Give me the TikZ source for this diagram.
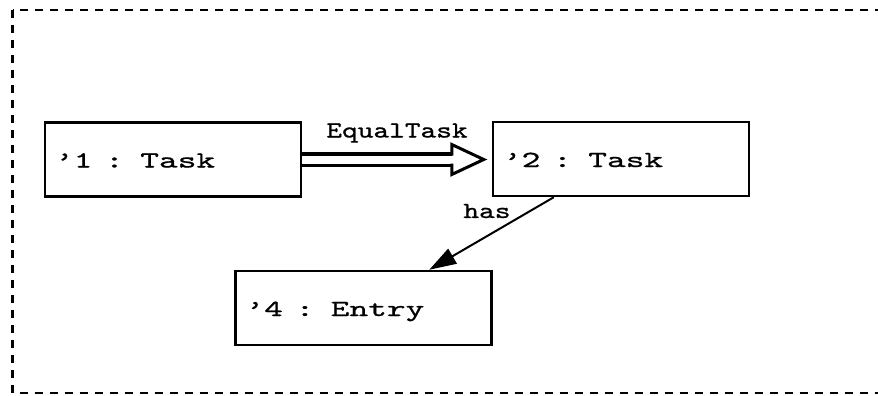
\documentclass[tikz,border=0pt]{standalone}
\usepackage{fontspec}
\setmonofont{lmmono10-regular.otf}[FakeStretch=1.55, FakeBold=0.9]
\newfontfamily\lblfont{lmmono10-regular.otf}[FakeStretch=1.3, FakeBold=0.9]
\newcommand{\gapx}{\kern5pt\relax}
\usetikzlibrary{arrows.meta}
\begin{document}
\begin{tikzpicture}[x=1pt,y=-1pt,
  txt/.style={font=\ttfamily\fontsize{23}{27}\selectfont},
  lbl/.style={font=\lblfont\fontsize{23}{27}\selectfont},
  box/.style={draw, line width=2.5pt, minimum width=256pt, minimum height=74pt,
    text width=236pt, inner xsep=10pt, align=left, txt, text height=20pt, text depth=4pt},
  frame/.style={line width=2.5pt, dash pattern=on 8pt off 7pt},
  conn/.style={line width=2pt},
  headline/.style={line width=3pt}]
\useasboundingbox (0,0) rectangle (878,396);
\clip (0,0) rectangle (878,396);
\draw[frame] (12.7,10) rectangle (905,393);
\node[box] (t1) at (173,159.5) {’1 \gapx: \gapx Task};
\node[box] (t2) at (621,159) {’2 \gapx: \gapx Task};
\node[box] (e4) at (363.5,308) {’4 \gapx: \gapx Entry};
% EqualTask
\coordinate (hb) at ([xshift=-40pt]t2.west |- t1.east);
\draw[double, double distance=8pt, line width=3.5pt] (t1.east) -- (hb)
  node[midway, lbl, anchor=base, yshift=22pt, xshift=20pt] (lq) {EqualTask};
\draw[headline] ([yshift=-4pt]hb) -- ([yshift=-15pt]hb) -- ([xshift=-8pt]t2.west |- t1.east)
  -- ([yshift=15pt]hb) -- ([yshift=4pt]hb);
% has
\coordinate (hs) at ([xshift=62pt]t2.south west);
\coordinate (he) at ([xshift=195pt]e4.north west);
\draw[conn, -{Triangle[length=27pt,width=17pt]}] (hs) -- (he)
  node[pos=0.12, lbl, anchor=base east, xshift=-24pt, yshift=-12pt] (lh) {has};
\end{tikzpicture}
\end{document}
